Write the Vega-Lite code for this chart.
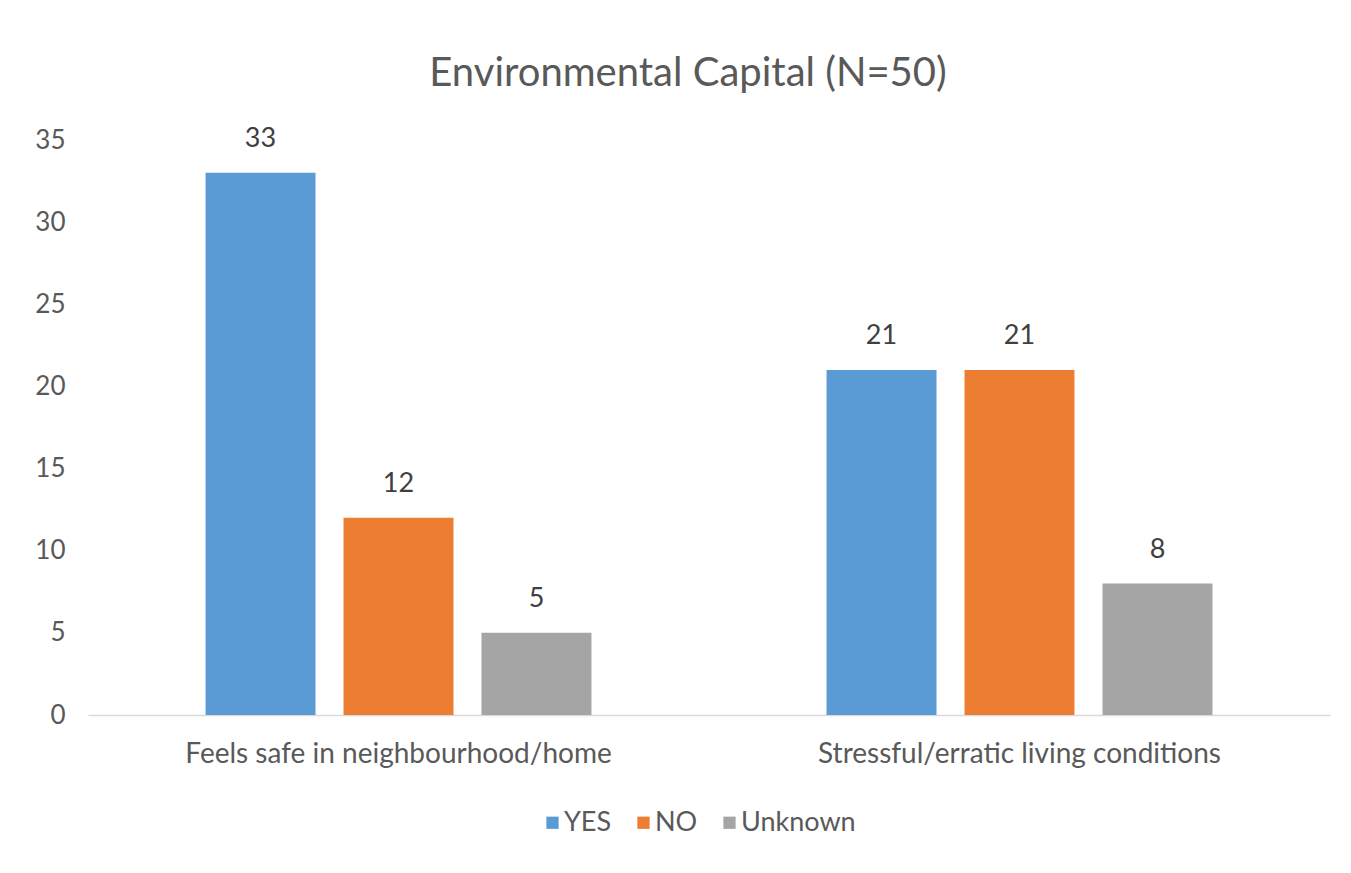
{
  "$schema": "https://vega.github.io/schema/vega-lite/v6.json",
  "width": 1242,
  "height": 575,
  "autosize": {"type": "none"},
  "padding": {"left": 88, "top": 140, "right": 21, "bottom": 158},
  "background": "white",
  "config": {"view": {"stroke": null}},
  "title": {
    "text": "Environmental Capital (N=50)",
    "fontSize": 40,
    "font": "Lato",
    "fontWeight": "normal",
    "color": "#595959",
    "offset": 31,
    "dx": -21,
    "anchor": "middle"
  },
  "data": {
    "values": [
      {"category": "Feels safe in neighbourhood/home", "response": "YES", "count": 33},
      {"category": "Feels safe in neighbourhood/home", "response": "NO", "count": 12},
      {"category": "Feels safe in neighbourhood/home", "response": "Unknown", "count": 5},
      {"category": "Stressful/erratic living conditions", "response": "YES", "count": 21},
      {"category": "Stressful/erratic living conditions", "response": "NO", "count": 21},
      {"category": "Stressful/erratic living conditions", "response": "Unknown", "count": 8}
    ]
  },
  "encoding": {
    "x": {
      "field": "category",
      "type": "nominal",
      "sort": null,
      "scale": {"paddingInner": 0, "paddingOuter": 0},
      "axis": {
        "title": null,
        "labelAngle": 0,
        "labelFont": "Lato",
        "labelFontSize": 28,
        "labelColor": "#595959",
        "labelPadding": 25,
        "labelLimit": 0,
        "ticks": false,
        "domainColor": "#d9d9d9",
        "domainWidth": 1.5
      }
    },
    "xOffset": {
      "field": "response",
      "type": "nominal",
      "sort": ["YES", "NO", "Unknown"],
      "scale": {"paddingInner": 0.203, "paddingOuter": 0.852}
    },
    "y": {
      "field": "count",
      "type": "quantitative",
      "scale": {"domain": [0, 35]},
      "axis": {
        "title": null,
        "values": [0, 5, 10, 15, 20, 25, 30, 35],
        "grid": false,
        "ticks": false,
        "domain": false,
        "labelFont": "Lato",
        "labelFontSize": 26,
        "labelColor": "#595959",
        "labelPadding": 23
      }
    }
  },
  "layer": [
    {
      "mark": {"type": "bar"},
      "encoding": {
        "color": {
          "field": "response",
          "type": "nominal",
          "sort": ["YES", "NO", "Unknown"],
          "scale": {"domain": ["YES", "NO", "Unknown"], "range": ["#5B9BD5", "#ED7D31", "#A5A5A5"]},
          "legend": {
            "title": null,
            "orient": "none",
            "direction": "horizontal",
            "legendX": 451,
            "legendY": 669,
            "symbolType": "square",
            "symbolSize": 150,
            "symbolStrokeWidth": 0,
            "labelFont": "Lato",
            "labelFontSize": 27,
            "labelColor": "#595959",
            "columnPadding": 18,
            "labelOffset": -2
          }
        }
      }
    },
    {
      "mark": {"type": "text", "baseline": "bottom", "dy": -20, "font": "Lato", "fontSize": 27, "color": "#404040"},
      "encoding": {
        "text": {"field": "count", "type": "quantitative"}
      }
    }
  ]
}
